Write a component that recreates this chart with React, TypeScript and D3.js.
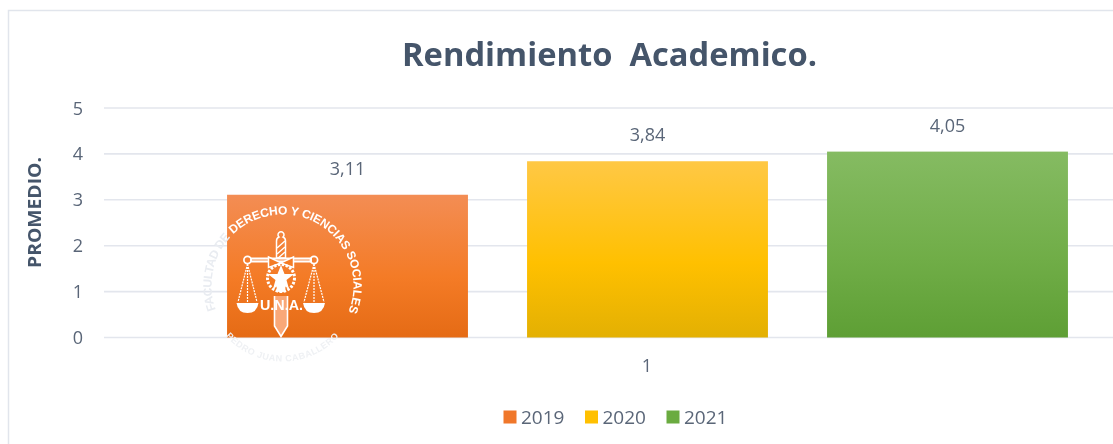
import React from "react";
import * as d3 from "d3";

const years = ["2019", "2020", "2021"];
const promedios = [3.11, 3.84, 4.05];
const labels = ["3,11", "3,84", "4,05"];
const yTicks = [0, 1, 2, 3, 4, 5];
const colorStops = [
  ["#f38d54", "#f47b26", "#e56b15"],
  ["#ffc845", "#ffc000", "#e3b003"],
  ["#85bb62", "#70ad47", "#5e9f35"],
];
const legendColors = ["#f0772b", "#ffc000", "#6bab41"];
const categoryLabel = "1";
const title = "Rendimiento  Academico.";
const yTitle = "PROMEDIO.";

const W = 1113;
const H = 444;
const font = "'Open Sans', 'Noto Sans', sans-serif";
const ink = "#5a6678";
const rad = (deg: number) => (deg * Math.PI) / 180;

export default function App() {
  const y = d3.scaleLinear().domain([0, 5]).range([337.5, 108]);
  const x = d3.scaleBand<string>().domain(years).range([197.5, 1097.5]).paddingInner(0.197).paddingOuter(0.0985);
  const cx = 282.5;
  const cy = 285.5;
  const leftArc = d3.path();
  leftArc.arc(cx, cy, 71, rad(160), rad(224), false);
  const topArc = d3.path();
  topArc.arc(cx, cy, 71, rad(226), rad(384), false);
  const botArc = d3.path();
  botArc.arc(cx, cy, 76, rad(160), rad(20), true);

  return (
    <svg width={W} height={H} viewBox={`0 0 ${W} ${H}`} style={{ position: "fixed", left: 0, top: 0, background: "#fff", display: "block" }}>
      <defs>
        {years.map((yr, i) => (
          <linearGradient key={yr} id={`g${yr}`} x1="0" y1="0" x2="0" y2="1">
            <stop offset="0" stopColor={colorStops[i][0]} />
            <stop offset="0.58" stopColor={colorStops[i][1]} />
            <stop offset="1" stopColor={colorStops[i][2]} />
          </linearGradient>
        ))}
        <path id="leftArc" d={leftArc.toString()} />
        <path id="topArc" d={topArc.toString()} />
        <path id="botArc" d={botArc.toString()} />
        <filter id="soft" x="-5%" y="-5%" width="110%" height="110%">
          <feGaussianBlur stdDeviation="0.55" />
        </filter>
      </defs>

      <path d={`M8.5 ${H} V10.5 H${W}`} fill="none" stroke="#e1e5ec" strokeWidth={1.5} />

      {yTicks.map((t) => (
        <line key={t} x1={104} x2={W} y1={y(t)} y2={y(t)} stroke="#e3e6ed" strokeWidth={1.6} />
      ))}

      {years.map((yr, i) => (
        <rect key={yr} x={x(yr)} y={y(promedios[i])} width={x.bandwidth()} height={y(0) - y(promedios[i])} fill={`url(#g${yr})`} />
      ))}

      <g filter="url(#soft)" fontFamily={font} fill={ink}>
        <text x={402} y={66} fontSize={32} fontWeight={700} fill="#44546a" textLength={415} lengthAdjust="spacingAndGlyphs" xmlSpace="preserve">
          {title}
        </text>
        {yTicks.map((t) => (
          <text key={t} x={78} y={y(t) + 6.5} textAnchor="middle" fontSize={18}>
            {t}
          </text>
        ))}
        <text transform="translate(41,268) rotate(-90)" fontSize={17} fontWeight={700} fill="#44546a" textLength={111} lengthAdjust="spacingAndGlyphs">
          {yTitle}
        </text>
        {years.map((yr, i) => (
          <text key={yr} x={x(yr)! + x.bandwidth() / 2} y={y(promedios[i]) - 20} textAnchor="middle" fontSize={18}>
            {labels[i]}
          </text>
        ))}
        <text x={647} y={372} textAnchor="middle" fontSize={18}>
          {categoryLabel}
        </text>
        {years.map((yr, i) => {
          const lx = 503.5 + i * 81.5;
          return (
            <g key={yr}>
              <rect x={lx} y={410.5} width={13} height={13} fill={legendColors[i]} />
              <text x={lx + 17.5} y={423.5} fontSize={19}>
                {yr}
              </text>
            </g>
          );
        })}
      </g>

      <g filter="url(#soft)" fontFamily="'Liberation Sans', sans-serif" fontWeight={700} fill="#fff">
        <text fontSize={12}>
          <textPath href="#topArc" textLength={193} lengthAdjust="spacing">DERECHO Y CIENCIAS SOCIALES</textPath>
        </text>
        <text fontSize={12} fill="#e9ecf1">
          <textPath href="#leftArc" textLength={78} lengthAdjust="spacing">FACULTAD DE</textPath>
        </text>
        <text fontSize={9} fill="#eff1f4" letterSpacing={0.5} textAnchor="middle">
          <textPath href="#botArc" startOffset="50%">PEDRO JUAN CABALLERO</textPath>
        </text>
        {/* escudo */}
        <path d="M274.5 296 V315 V326 L281 336.5 L287.5 326 V296" fill="#f9a878" stroke="#fff" strokeWidth={1.6} />
        <path d="M276.5 258 V241 Q276.5 238 279 237 A3 3 0 1 1 283 237 Q285.5 238 285.5 241 V258 Z" fill="none" stroke="#fff" strokeWidth={1.5} />
        <path d="M277 254 L285 247 M277 248 L285 241 M277 259 L285 252" stroke="#fff" strokeWidth={1.4} />
        <path d="M250 260 H312" stroke="#fff" strokeWidth={5} />
        <path d="M252 260 H310" stroke="#f9b78e" strokeWidth={1.6} />
        <circle cx={247.5} cy={260} r={3.6} fill="none" stroke="#fff" strokeWidth={1.7} />
        <circle cx={314} cy={260} r={3.6} fill="none" stroke="#fff" strokeWidth={1.7} />
        <path d="M268.5 257 L281 263 L293.5 257 V267.5 L281 263 L268.5 267.5 Z" fill="#f47b26" stroke="#fff" strokeWidth={1.5} />
        <circle cx={281} cy={278} r={13.5} fill="none" stroke="#fff" strokeWidth={3} strokeDasharray="2.5 1.5" />
        <path d="M281 265 L284.5 274 L294 274 L286.5 280 L289 289 L281 284 L273 289 L275.5 280 L268 274 L277.5 274 Z" />
        <circle cx={281} cy={288} r={4.5} fill="#fff" />
        <path d="M247.5 264 L238 302 M247.5 264 L257 302 M247.5 264 V302 M314 264 L304 302 M314 264 L324 302 M314 264 V302" stroke="#fff" strokeWidth={1.2} strokeDasharray="2 1" />
        <path d="M236.5 303 H258.5 Q257 313 247.5 313 Q238 313 236.5 303 Z" />
        <path d="M303 303 H325 Q323.5 313 314 313 Q304.5 313 303 303 Z" />
        <text x={260} y={309.5} fontSize={15.5} textLength={43} lengthAdjust="spacingAndGlyphs">U.N.A.</text>
      </g>
    </svg>
  );
}
